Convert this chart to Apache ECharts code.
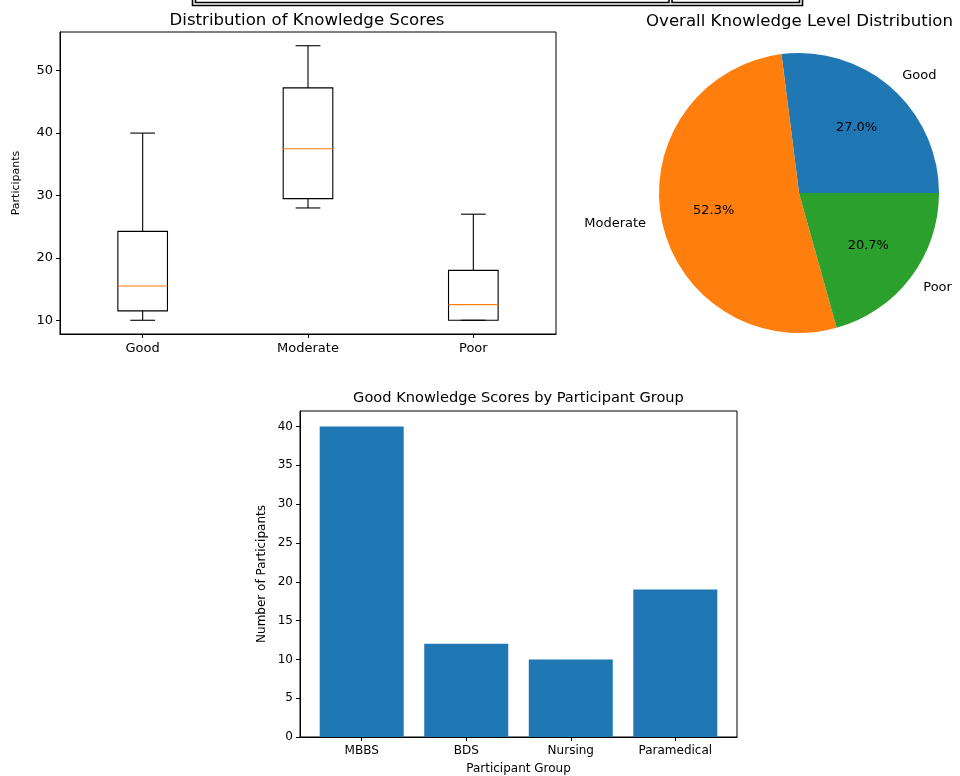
<!DOCTYPE html>
<html>
<head>
<meta charset="utf-8">
<script src="https://cdn.jsdelivr.net/npm/echarts@6/dist/echarts.min.js"></script>
<style>
html,body{margin:0;padding:0;background:#fff;}
#chart{width:960px;height:776px;}
</style>
</head>
<body>
<div id="chart"></div>
<script>
// ---- Data ----
const levels = ['Good', 'Moderate', 'Poor'];
// five-number summaries: [min, Q1, median, Q3, max]
const goodStats = [10, 11.5, 15.5, 24.25, 40];
const moderateStats = [28, 29.5, 37.5, 47.25, 54];
const poorStats = [10, 10, 12.5, 18, 27];
const boxTicks = [10, 20, 30, 40, 50];

const pieValues = [81, 157, 62];
const pieColors = ['#1f77b4', '#ff7f0e', '#2ca02c'];

const groups = ['MBBS', 'BDS', 'Nursing', 'Paramedical'];
const goodByGroup = [40, 12, 10, 19];
const barTicks = [0, 5, 10, 15, 20, 25, 30, 35, 40];

const FONT = 'DejaVu Sans';
const chart = echarts.init(document.getElementById('chart'), null, {renderer: 'canvas'});

const boxData = [goodStats, moderateStats, poorStats].map((s, i) => [i].concat(s));
const pieData = levels.map((n, i) => ({name: n, value: pieValues[i], itemStyle: {color: pieColors[i]}}));
const total = pieValues.reduce((a, b) => a + b, 0);

function boxRender(params, api) {
  const i = api.value(0);
  const vals = [1, 2, 3, 4, 5].map(k => api.value(k));
  const pts = vals.map(v => api.coord([i, v]));
  const x = pts[0][0];
  const band = api.size([1, 0])[0];
  const bw = band * 0.3;
  const cw = bw / 2;
  const black = {stroke: '#000', lineWidth: 1.1, fill: null};
  return {
    type: 'group',
    children: [
      {type: 'rect', shape: {x: x - bw / 2, y: pts[3][1], width: bw, height: pts[1][1] - pts[3][1]}, style: black},
      {type: 'line', shape: {x1: x, y1: pts[1][1], x2: x, y2: pts[0][1]}, style: black},
      {type: 'line', shape: {x1: x, y1: pts[3][1], x2: x, y2: pts[4][1]}, style: black},
      {type: 'line', shape: {x1: x - cw / 2, y1: pts[0][1], x2: x + cw / 2, y2: pts[0][1]}, style: black},
      {type: 'line', shape: {x1: x - cw / 2, y1: pts[4][1], x2: x + cw / 2, y2: pts[4][1]}, style: black},
      {type: 'line', shape: {x1: x - bw / 2, y1: pts[2][1], x2: x + bw / 2, y2: pts[2][1]}, style: {stroke: '#ff7f0e', lineWidth: 1.1}}
    ]
  };
}

const option = {
  animation: false,
  backgroundColor: '#fff',
  textStyle: {fontFamily: FONT},
  graphic: [
    // clipped table border at top
    {type: 'rect', shape: {x: 192.5, y: -10, width: 610, height: 15.5}, style: {fill: null, stroke: '#000', lineWidth: 1.6}},
    {type: 'rect', shape: {x: 195.5, y: -10, width: 473.5, height: 12.5}, style: {fill: null, stroke: '#000', lineWidth: 1.6}},
    {type: 'rect', shape: {x: 672, y: -10, width: 127.5, height: 12.5}, style: {fill: null, stroke: '#000', lineWidth: 1.6}},
    {type: 'text', x: 307, y: 20.5, style: {text: 'Distribution of Knowledge Scores', fontFamily: FONT, fontSize: 16.6, fill: '#000', textAlign: 'center', textVerticalAlign: 'middle'}},
    {type: 'text', x: 799.5, y: 21.5, style: {text: 'Overall Knowledge Level Distribution', fontFamily: FONT, fontSize: 16.6, fill: '#000', textAlign: 'center', textVerticalAlign: 'middle'}},
    {type: 'text', x: 518.5, y: 398.5, style: {text: 'Good Knowledge Scores by Participant Group', fontFamily: FONT, fontSize: 14.6, fill: '#000', textAlign: 'center', textVerticalAlign: 'middle'}}
  ],
  grid: [
    {left: 60, top: 32, width: 496, height: 302, show: true, borderColor: '#000', borderWidth: 1, backgroundColor: 'transparent'},
    {left: 300, top: 411, width: 437, height: 327, show: true, borderColor: '#000', borderWidth: 1, backgroundColor: 'transparent'}
  ],
  xAxis: [
    {
      gridIndex: 0, type: 'category', data: levels, boundaryGap: true,
      axisLine: {show: true, lineStyle: {color: '#000', width: 1}},
      axisTick: {show: true, alignWithLabel: true, length: 4, lineStyle: {color: '#000'}},
      axisLabel: {color: '#000', fontSize: 13, margin: 8, fontFamily: FONT},
      splitLine: {show: false}
    },
    {
      gridIndex: 1, type: 'value', min: -0.59, max: 3.59,
      axisLine: {show: true, onZero: false, lineStyle: {color: '#000', width: 1}},
      axisTick: {show: true, length: 4, lineStyle: {color: '#000'}, customValues: [0, 1, 2, 3]},
      axisLabel: {color: '#000', fontSize: 12, margin: 8, fontFamily: FONT, customValues: [0, 1, 2, 3], formatter: v => groups[Math.round(v)]},
      splitLine: {show: false},
      name: 'Participant Group', nameLocation: 'middle', nameGap: 26,
      nameTextStyle: {color: '#000', fontSize: 12, fontFamily: FONT}
    }
  ],
  yAxis: [
    {
      gridIndex: 0, type: 'value', min: 7.8, max: 56.2,
      axisLine: {show: true, onZero: false, lineStyle: {color: '#000', width: 1}},
      axisTick: {show: true, length: 4, lineStyle: {color: '#000'}, customValues: boxTicks},
      axisLabel: {color: '#000', fontSize: 13, margin: 7, fontFamily: FONT, customValues: boxTicks},
      splitLine: {show: false},
      name: 'Participants', nameLocation: 'middle', nameGap: 38, nameRotate: 90,
      nameTextStyle: {color: '#000', fontSize: 11, fontFamily: FONT}
    },
    {
      gridIndex: 1, type: 'value', min: 0, max: 42,
      axisLine: {show: true, onZero: false, lineStyle: {color: '#000', width: 1}},
      axisTick: {show: true, length: 4, lineStyle: {color: '#000'}, customValues: barTicks},
      axisLabel: {color: '#000', fontSize: 12, margin: 7, fontFamily: FONT, customValues: barTicks},
      splitLine: {show: false},
      name: 'Number of Participants', nameLocation: 'middle', nameGap: 32, nameRotate: 90,
      nameTextStyle: {color: '#000', fontSize: 12, fontFamily: FONT}
    }
  ],
  series: [
    {
      type: 'custom', xAxisIndex: 0, yAxisIndex: 0,
      renderItem: boxRender,
      encode: {x: 0, y: [1, 2, 3, 4, 5]},
      data: boxData, silent: true, clip: false
    },
    {
      type: 'pie', center: [799, 193], radius: 140,
      startAngle: 0, clockwise: false, avoidLabelOverlap: false,
      data: pieData, silent: true,
      itemStyle: {borderWidth: 0},
      label: {show: true, position: 'outside', color: '#000', fontSize: 13, fontFamily: FONT, distanceToLabelLine: 0},
      labelLine: {show: false, length: 16, length2: 0},
      emphasis: {disabled: true}
    },
    {
      type: 'pie', center: [799, 193], radius: [28, 140],
      startAngle: 0, clockwise: false, avoidLabelOverlap: false,
      data: pieData.map(d => ({name: d.name, value: d.value, itemStyle: {color: 'rgba(0,0,0,0)'}})),
      silent: true,
      label: {show: true, position: 'inside', color: '#000', fontSize: 13, fontFamily: FONT,
        formatter: p => (p.value / total * 100).toFixed(1) + '%'},
      labelLine: {show: false},
      emphasis: {disabled: true}
    },
    {
      type: 'bar', xAxisIndex: 1, yAxisIndex: 1,
      data: goodByGroup.map((v, i) => [i, v]),
      barWidth: 84,
      itemStyle: {color: '#1f77b4'},
      silent: true
    }
  ]
};
chart.setOption(option);
</script>
</body>
</html>
